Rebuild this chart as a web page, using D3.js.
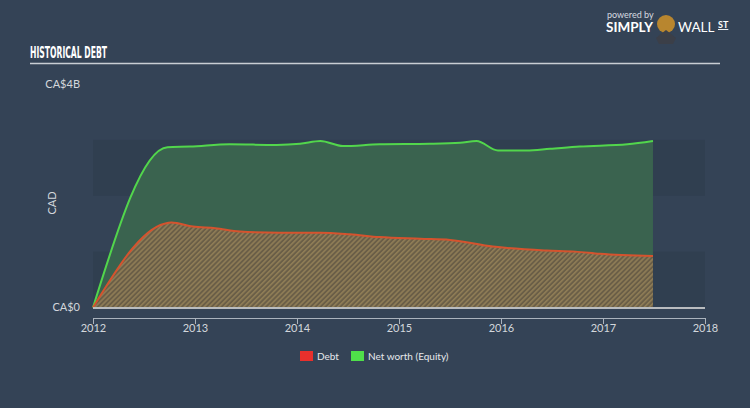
<!DOCTYPE html>
<html><head><meta charset="utf-8">
<script src="https://cdn.jsdelivr.net/npm/d3@7"></script>
<style>html,body{margin:0;padding:0;background:#344356;}svg{display:block;}</style>
</head><body>
<script>
const equityYears = [2012.00,2012.73,2012.95,2013.34,2013.80,2014.03,2014.23,2014.45,2014.81,2015.30,2015.60,2015.76,2015.97,2016.25,2016.48,2016.77,2017.24,2017.49];
const equityValues = [0,2.87,2.88,2.92,2.91,2.93,2.98,2.89,2.92,2.93,2.95,2.98,2.81,2.81,2.84,2.88,2.92,2.98];
const debtYears = [2012.00,2012.70,2012.77,2012.98,2013.20,2013.44,2013.83,2014.23,2014.52,2014.81,2015.21,2015.50,2015.92,2016.45,2016.73,2016.97,2017.49];
const debtValues = [0,1.50,1.52,1.45,1.42,1.36,1.34,1.34,1.31,1.26,1.23,1.21,1.09,1.02,1.00,0.96,0.92];
const xTicks = [2012,2013,2014,2015,2016,2017,2018];
const yTickValues = [0,4];
const yTickLabels = ["CA$0","CA$4B"];
const bandStarts = [0,2];
const legendLabels = ["Debt","Net worth (Equity)"];
const legendColors = ["#e8302c","#4fe04a"];

const W=750,H=408;
const svg=d3.select("body").append("svg").attr("width",W).attr("height",H);
svg.append("rect").attr("width",W).attr("height",H).attr("fill","#344356");

const x=d3.scaleLinear().domain([2012,2018]).range([93,705]);
const y=d3.scaleLinear().domain([0,4]).range([307.5,84]);

const defs=svg.append("defs");
const pat=defs.append("pattern").attr("id","hatch").attr("patternUnits","userSpaceOnUse")
  .attr("width",3.5).attr("height",3.5).attr("patternTransform","rotate(45)");
pat.append("rect").attr("width",3.5).attr("height",3.5).attr("fill","#6a5e47");
pat.append("rect").attr("width",1.6).attr("height",3.5).attr("fill","#8f7d56");

bandStarts.forEach(b=>{
  svg.append("rect").attr("x",x(2012)).attr("width",x(2018)-x(2012))
    .attr("y",y(b+1)).attr("height",y(b)-y(b+1)).attr("fill","#2f3d4f").attr("opacity",0.7);
});

svg.append("text").attr("x",30).attr("y",58).text("HISTORICAL DEBT")
  .attr("font-family","DejaVu Sans Condensed, DejaVu Sans").attr("font-weight","bold")
  .attr("font-size",15).attr("fill","#ffffff").attr("textLength",77).attr("lengthAdjust","spacingAndGlyphs");
svg.append("line").attr("x1",30).attr("x2",720).attr("y1",63.5).attr("y2",63.5)
  .attr("stroke","#c9ced4").attr("stroke-width",1.5);

const logo=svg.append("g");
logo.append("text").attr("x",607).attr("y",18).text("powered by").attr("font-family","Lato, sans-serif")
  .attr("font-size",9).attr("fill","#d6dae0");
logo.append("text").attr("x",606).attr("y",32).text("SIMPLY").attr("font-family","Lato, sans-serif")
  .attr("font-weight","bold").attr("font-size",13.5).attr("fill","#ffffff");
logo.append("circle").attr("cx",666).attr("cy",24).attr("r",9).attr("fill","#b8862f");
logo.append("path").attr("d","M656 38 L666 30 L676 38 L673 44 L659 44 Z").attr("fill","#3b3f48");
logo.append("text").attr("x",678).attr("y",32).text("WALL").attr("font-family","Lato, sans-serif")
  .attr("font-size",13.5).attr("fill","#ffffff");
logo.append("text").attr("x",718).attr("y",28).text("ST").attr("font-family","Lato, sans-serif")
  .attr("font-weight","bold").attr("font-size",9).attr("fill","#ffffff").attr("text-decoration","underline");

const eqData=equityYears.map((d,i)=>({x:d,v:equityValues[i]}));
const dbData=debtYears.map((d,i)=>({x:d,v:debtValues[i]}));
const area=d3.area().x(d=>x(d.x)).y0(y(0)).y1(d=>y(d.v)).curve(d3.curveMonotoneX);
const line=d3.line().x(d=>x(d.x)).y(d=>y(d.v)).curve(d3.curveMonotoneX);
svg.append("path").datum(eqData).attr("d",area).attr("fill","#3a634f");
svg.append("path").datum(dbData).attr("d",area).attr("fill","url(#hatch)");
svg.append("path").datum(eqData).attr("d",line).attr("fill","none").attr("stroke","#52d64c").attr("stroke-width",2);
svg.append("path").datum(dbData).attr("d",line).attr("fill","none").attr("stroke","#d5532e").attr("stroke-width",2);

svg.append("line").attr("x1",x(2012)).attr("x2",x(2018)).attr("y1",308).attr("y2",308)
  .attr("stroke","#b9bcbf").attr("stroke-width",2);

yTickValues.forEach((v,i)=>{
  svg.append("text").attr("x",80).attr("y",y(v)).attr("dy","0.35em").attr("text-anchor","end")
    .text(yTickLabels[i]).attr("font-family","Lato, sans-serif").attr("font-size",11).attr("fill","#d3d7dc");
});
svg.append("text").attr("transform","translate(56,203) rotate(-90)").attr("text-anchor","middle")
  .text("CAD").attr("font-family","Lato, sans-serif").attr("font-size",11).attr("fill","#d3d7dc");

const xAxis=d3.axisBottom(x).tickValues(xTicks).tickFormat(d3.format("d")).tickSize(6).tickSizeOuter(0);
const gx=svg.append("g").attr("transform","translate(0,318)").call(xAxis);
gx.select(".domain").attr("stroke","#aab3bd").attr("stroke-width",1);
gx.selectAll(".tick line").attr("stroke","#aab3bd");
gx.selectAll(".tick text").attr("font-family","Lato, sans-serif").attr("font-size",11).attr("fill","#d3d7dc").attr("y",6);

const legX=[300,351];
legendLabels.forEach((l,i)=>{
  svg.append("rect").attr("x",legX[i]).attr("y",351).attr("width",13).attr("height",10).attr("fill",legendColors[i]);
  svg.append("text").attr("x",legX[i]+17).attr("y",356).attr("dy","0.35em").text(l)
    .attr("font-family","Lato, sans-serif").attr("font-size",10).attr("fill","#e6e9ec");
});
</script>
</body></html>
